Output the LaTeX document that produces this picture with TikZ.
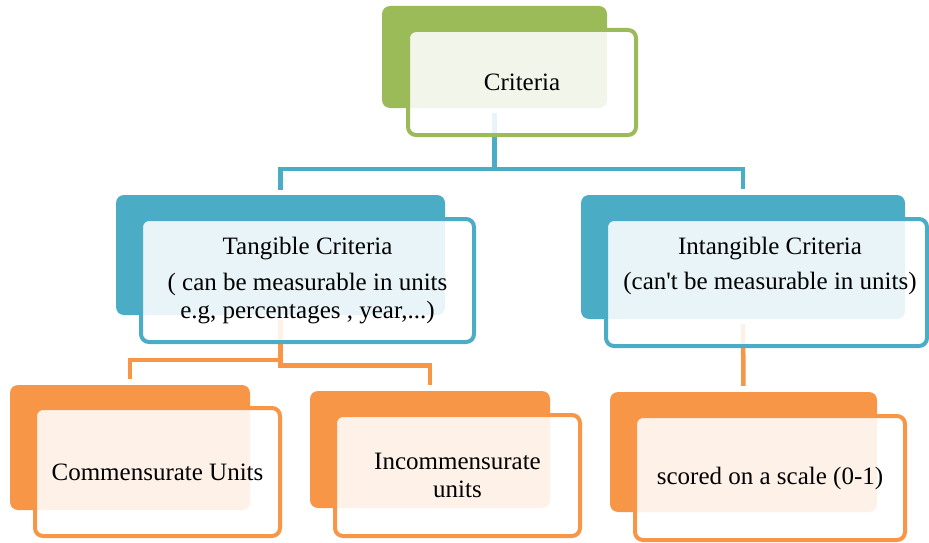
\documentclass[tikz,border=0pt]{standalone}
\usepackage{fontspec}
\newfontfamily\tfont{Liberation Serif}
\definecolor{cgreen}{HTML}{9BBB59}
\definecolor{cblue}{HTML}{4BACC6}
\definecolor{corange}{HTML}{F79646}
\begin{document}
\begin{tikzpicture}[x=1pt,y=-1pt,
  backbox/.style={rectangle, rounded corners=8pt, inner sep=0pt, fill=#1},
  frontbox/.style={rectangle, rounded corners=8pt, inner sep=0pt, draw=#1, line width=4pt,
    fill=white, fill opacity=0.88, text opacity=1, align=center,
    font=\tfont\fontsize{25}{28}\selectfont},
  lbl/.style={align=center, inner sep=0pt, font=\tfont\fontsize{25}{28}\selectfont},
  conn/.style={draw=#1, line width=4.5pt, shorten <=5pt, shorten >=6pt},
  connup/.style={draw=#1, line width=4.5pt, shorten <=5pt}]
\useasboundingbox (0,0) rectangle (929,543);
% back boxes
\node[backbox=cgreen, minimum width=225pt, minimum height=102pt] (critb) at (494.5,57) {};
\node[backbox=cblue, minimum width=329pt, minimum height=120pt] (tangb) at (280.5,255) {};
\node[backbox=cblue, minimum width=324pt, minimum height=124pt] (intb) at (743,257) {};
\node[backbox=corange, minimum width=240pt, minimum height=125pt] (comb) at (130,447.5) {};
\node[backbox=corange, minimum width=240pt, minimum height=117pt] (incb) at (430,449.5) {};
\node[backbox=corange, minimum width=267pt, minimum height=120pt] (scob) at (743.5,452) {};
% connectors
\draw[connup=cblue] (critb.south) -- (critb.south |- 0,169);
\draw[conn=cblue] (tangb.north) |- (intb.north |- 0,169) -- (intb.north);
\draw[conn=corange] (tangb.south) -- (tangb.south |- 0,360) -| (comb.north);
\draw[conn=corange] (tangb.south) -- (tangb.south |- 0,365.5) -| (incb.north);
\draw[conn=corange] (intb.south) -- (scob.north);
% front boxes
\node[frontbox=cgreen, minimum width=228pt, minimum height=105pt] (crit) at (522,82.5) {Criteria};
\node[frontbox=cblue, minimum width=333pt, minimum height=123pt] (tang) at (307.5,280.5)
  {Tangible Criteria\\[8pt]( can be measurable in units\\e.g, percentages , year,...)};
\node[frontbox=cblue, minimum width=321pt, minimum height=127pt] (intg) at (766.5,282.5) {};
\node[lbl] (intt) at (770,265.5) {Intangible Criteria\\[7pt](can't be measurable in units)};
\node[frontbox=corange, minimum width=245pt, minimum height=128pt] (com) at (157.5,472) {Commensurate Units};
\node[frontbox=corange, minimum width=245pt, minimum height=121pt] (inc) at (457.5,475.5) {Incommensurate\\units};
\node[frontbox=corange, minimum width=270pt, minimum height=124pt] (sco) at (770,478) {scored on a scale (0-1)};
\end{tikzpicture}
\end{document}
